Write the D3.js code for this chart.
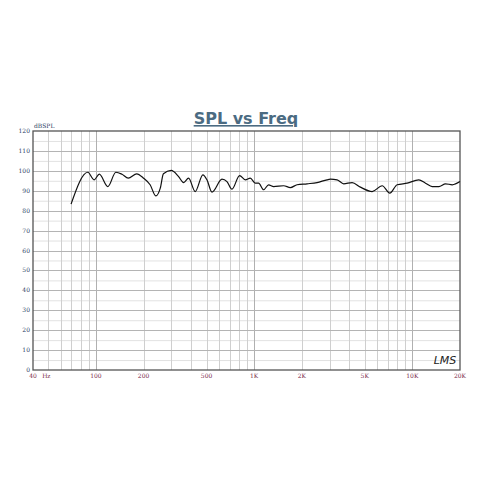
<!DOCTYPE html>
<html>
<head>
<meta charset="utf-8">
<script src="https://cdn.jsdelivr.net/npm/d3@7"></script>
<style>
  html, body { margin: 0; padding: 0; background: #fff; }
  svg { display: block; }
</style>
</head>
<body>
<svg id="chart" width="492" height="492"></svg>
<script>
// ---- data ----
const freqHz = [69.6, 88.8, 97.3, 105, 119, 133.5, 146, 160, 181, 200, 220, 239, 255, 267, 299, 333, 358, 385, 424, 474, 503, 541, 626, 673, 724, 809, 879, 945, 1016, 1067, 1147, 1234, 1328, 1536, 1693, 1867, 2159, 2498, 2890, 3032, 3344, 3680, 4160, 4695, 5568, 6444, 7197, 8017, 9272, 10980, 12108, 13352, 14700, 16213, 17868, 20000];
const splDb = [83.3, 99.3, 95.5, 98.3, 92.1, 99.3, 98.3, 96.3, 98.5, 96.3, 93, 87.4, 91.3, 98.5, 100.2, 97.1, 94.1, 96.3, 89.6, 98, 95.5, 89.3, 95.8, 94.6, 90.8, 97.6, 95.5, 96.3, 93.8, 93.8, 90.5, 93, 92.1, 92.5, 91.6, 93, 93.5, 94.1, 95.5, 95.8, 95.5, 93.5, 94.1, 91.8, 89.6, 92.5, 88.8, 93, 93.8, 95.5, 93.8, 92.1, 92.1, 93.5, 93, 94.6];
const yTicks = [0, 10, 20, 30, 40, 50, 60, 70, 80, 90, 100, 110, 120];
const xTickValues = [40, 100, 200, 500, 1000, 2000, 5000, 10000, 20000];
const xTickLabels = ["40", "100", "200", "500", "1K", "2K", "5K", "10K", "20K"];
const titleText = "SPL vs Freq";
const yUnit = "dBSPL";

// ---- layout ----
const svg = d3.select("#chart");
const L = 33, R = 460, T = 131, B = 370;
const x = d3.scaleLog().domain([40, 20000]).range([L, R]);
const y = d3.scaleLinear().domain([0, 120]).range([B, T]);

// grid lines
const vGrid = [];
for (let dec = 10; dec <= 10000; dec *= 10) {
  for (let m = 1; m <= 9; m++) {
    const f = dec * m;
    if (f > 40 && f < 20000) vGrid.push(f);
  }
}
const g = svg.append("g");
// minor horizontal (5 dB)
g.selectAll("line.hmin").data(d3.range(5, 120, 10)).enter().append("line")
  .attr("x1", L).attr("x2", R).attr("y1", d => y(d) + 0.5).attr("y2", d => y(d) + 0.5)
  .attr("stroke", "#e2e2e2").attr("stroke-width", 1);
// vertical grid
g.selectAll("line.v").data(vGrid).enter().append("line")
  .attr("x1", d => Math.round(x(d)) + 0.5).attr("x2", d => Math.round(x(d)) + 0.5)
  .attr("y1", T).attr("y2", B)
  .attr("stroke", d => [100, 1000, 10000].includes(d) ? "#b0b0b0" : "#cfcfcf").attr("stroke-width", 1);
// major horizontal (10 dB)
g.selectAll("line.hmaj").data(yTicks.filter(d => d > 0 && d < 120)).enter().append("line")
  .attr("x1", L).attr("x2", R).attr("y1", d => Math.round(y(d)) + 0.5).attr("y2", d => Math.round(y(d)) + 0.5)
  .attr("stroke", "#b4b4b4").attr("stroke-width", 1);

// frame
svg.append("rect").attr("x", L).attr("y", T).attr("width", R - L).attr("height", B - T)
  .attr("fill", "none").attr("stroke", "#555").attr("stroke-width", 1.3);

// y axis labels
svg.append("g").selectAll("text").data(yTicks).enter().append("text")
  .attr("x", L - 3).attr("y", d => y(d) + 2)
  .attr("text-anchor", "end").attr("font-family", "DejaVu Serif, serif").attr("font-size", 6)
  .attr("fill", "#2d3f66").text(d => d);
svg.append("text").attr("x", L + 1).attr("y", T - 3)
  .attr("font-family", "DejaVu Serif, serif").attr("font-size", 6).attr("fill", "#2d3f66").text(yUnit);

// x axis labels
svg.append("g").selectAll("text").data(xTickValues).enter().append("text")
  .attr("x", d => x(d)).attr("y", B + 8)
  .attr("text-anchor", "middle").attr("font-family", "DejaVu Serif, serif").attr("font-size", 6)
  .attr("fill", "#7a2a4a").text((d, i) => xTickLabels[i]);
svg.append("text").attr("x", x(50) - 2).attr("y", B + 8)
  .attr("text-anchor", "middle").attr("font-family", "DejaVu Serif, serif").attr("font-size", 6)
  .attr("fill", "#7a2a4a").text("Hz");

// curve
const pts = freqHz.map((f, i) => [f, splDb[i]]);
const line = d3.line().x(d => x(d[0])).y(d => y(d[1])).curve(d3.curveMonotoneX);
svg.append("path").datum(pts).attr("d", line)
  .attr("fill", "none").attr("stroke", "#111").attr("stroke-width", 1.2);

// title
const title = svg.append("text").attr("x", 246).attr("y", 124)
  .attr("text-anchor", "middle").attr("font-family", "DejaVu Sans, sans-serif")
  .attr("font-weight", "bold").attr("font-size", 16).attr("fill", "#4b6b82")
  .attr("text-decoration", "underline").text(titleText);

// LMS mark
svg.append("text").attr("x", 445).attr("y", 364).attr("text-anchor", "middle")
  .attr("font-family", "DejaVu Sans, sans-serif").attr("font-style", "italic")
  .attr("font-size", 11).attr("fill", "#222").text("LMS");
</script>
</body>
</html>
